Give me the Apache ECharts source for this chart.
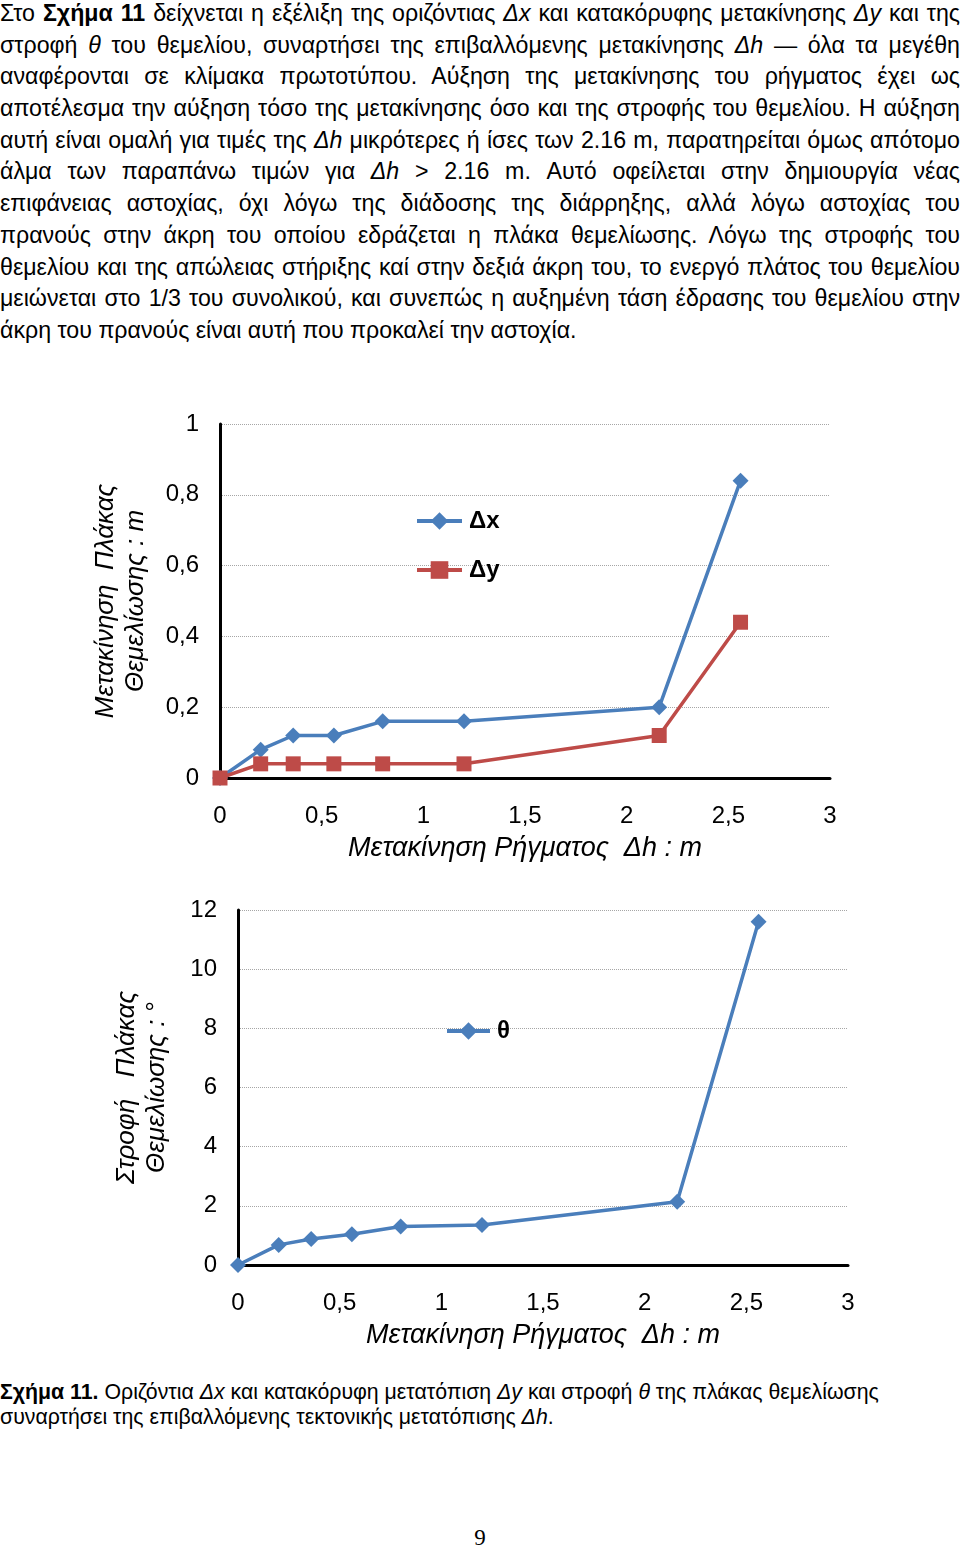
<!DOCTYPE html>
<html><head><meta charset="utf-8">
<script src="https://cdn.jsdelivr.net/npm/echarts@6/dist/echarts.min.js"></script>
<style>
html,body{margin:0;padding:0;background:#fff;}
body{width:960px;height:1550px;position:relative;overflow:hidden;font-family:"Liberation Sans",Arial,sans-serif;color:#000;}
#text{position:absolute;left:0;top:-2px;width:960px;font-size:23.2px;}
#text .l{height:31.7px;line-height:31.7px;text-align:justify;text-align-last:justify;}
#text .l.last{text-align-last:left;}
#chart{position:absolute;left:0;top:380px;width:960px;height:1000px;}
#cap{position:absolute;left:0;top:1380px;width:960px;font-size:21.3px;line-height:25px;}
#pg{position:absolute;left:0;width:960px;top:1524px;text-align:center;font-family:"Liberation Serif","Times New Roman",serif;font-size:23px;line-height:28px;}
</style></head>
<body>
<div id="text">
<div class="l">Στο <b>Σχήμα 11</b> δείχνεται η εξέλιξη της οριζόντιας <i>Δx</i> και κατακόρυφης μετακίνησης <i>Δy</i> και της</div>
<div class="l">στροφή <i>θ</i> του θεμελίου, συναρτήσει της επιβαλλόμενης μετακίνησης <i>Δh</i> — όλα τα μεγέθη</div>
<div class="l">αναφέρονται σε κλίμακα πρωτοτύπου. Αύξηση της μετακίνησης του ρήγματος έχει ως</div>
<div class="l">αποτέλεσμα την αύξηση τόσο της μετακίνησης όσο και της στροφής του θεμελίου. Η αύξηση</div>
<div class="l">αυτή είναι ομαλή για τιμές της <i>Δh</i> μικρότερες ή ίσες των 2.16 m, παρατηρείται όμως απότομο</div>
<div class="l">άλμα των παραπάνω τιμών για <i>Δh</i> &gt; 2.16 m. Αυτό οφείλεται στην δημιουργία νέας</div>
<div class="l">επιφάνειας αστοχίας, όχι λόγω της διάδοσης της διάρρηξης, αλλά λόγω αστοχίας του</div>
<div class="l">πρανούς στην άκρη του οποίου εδράζεται η πλάκα θεμελίωσης. Λόγω της στροφής του</div>
<div class="l">θεμελίου και της απώλειας στήριξης καί στην δεξιά άκρη του, το ενεργό πλάτος του θεμελίου</div>
<div class="l">μειώνεται στο 1/3 του συνολικού, και συνεπώς η αυξημένη τάση έδρασης του θεμελίου στην</div>
<div class="l last">άκρη του πρανούς είναι αυτή που προκαλεί την αστοχία.</div>
</div>
<div id="chart"></div>
<div id="cap"><b>Σχήμα 11.</b> Οριζόντια <i>Δx</i> και κατακόρυφη μετατόπιση <i>Δy</i> και στροφή <i>θ</i> της πλάκας θεμελίωσης<br>συναρτήσει της επιβαλλόμενης τεκτονικής μετατόπισης <i>Δh</i>.</div>
<div id="pg">9</div>
<script>
// Data
const dh    = [0, 0.2, 0.36, 0.56, 0.8, 1.2, 2.16, 2.56];   // Δh : m
const dx    = [0, 0.08, 0.12, 0.12, 0.16, 0.16, 0.20, 0.84]; // Δx : m
const dy    = [0, 0.04, 0.04, 0.04, 0.04, 0.04, 0.12, 0.44]; // Δy : m
const theta = [0, 0.68, 0.88, 1.04, 1.30, 1.35, 2.14, 11.6]; // θ : °
const seriesNames = ['Δx', 'Δy', 'θ'];
const xTitle = 'Μετακίνηση Ρήγματος  Δh : m';
const yTitle1 = 'Μετακίνηση  Πλάκας\nΘεμελίωσης : m';
const yTitle2 = 'Στροφή   Πλάκας\nΘεμελίωσης : °';

const BLUE = '#4A7EBB', RED = '#BE4B48';
const FONT = '"Liberation Sans", Arial, sans-serif';
const pair = (xs, ys) => xs.map((x, i) => [x, ys[i]]);
const comma = v => String(v).replace('.', ',');

function xAxisCfg(gi) {
  return {
    gridIndex: gi, type: 'value', min: 0, max: 3, interval: 0.5,
    name: xTitle, nameLocation: 'middle', nameGap: 57,
    nameTextStyle: {fontFamily: FONT, fontSize: 27, fontStyle: 'italic', color: '#000'},
    axisLine: {show: true, onZero: true, lineStyle: {color: '#000', width: 3}},
    axisTick: {show: false},
    splitLine: {show: false},
    axisLabel: {formatter: comma, fontFamily: FONT, fontSize: 24, color: '#000', margin: 26}
  };
}
function yAxisCfg(gi, max, interval, name, gap, fmt) {
  return {
    gridIndex: gi, type: 'value', min: 0, max: max, interval: interval,
    name: name, nameLocation: 'middle', nameRotate: 90, nameGap: gap,
    nameTextStyle: {fontFamily: FONT, fontSize: 26, fontStyle: 'italic', color: '#000', lineHeight: 30, align: 'center'},
    axisLine: {show: true, lineStyle: {color: '#000', width: 3}},
    axisTick: {show: false},
    splitLine: {show: true, lineStyle: {color: '#a6a6a6', type: 'dotted', width: 1}},
    axisLabel: {formatter: fmt, fontFamily: FONT, fontSize: 24, color: '#000', margin: 21}
  };
}
const legendText = {fontFamily: FONT, fontSize: 24, fontWeight: 'bold', color: '#000', lineHeight: 24, padding: [0, 0, 0, 2]};

const chart = echarts.init(document.getElementById('chart'), null, {renderer: 'canvas'});
chart.setOption({
  animation: false,
  backgroundColor: '#fff',
  grid: [
    {left: 220, top: 44, width: 610, height: 354, outerBoundsMode: 'none'},
    {left: 238, top: 530, width: 610, height: 355, outerBoundsMode: 'none'}
  ],
  xAxis: [xAxisCfg(0), xAxisCfg(1)],
  yAxis: [
    yAxisCfg(0, 1, 0.2, yTitle1, 69, comma),
    yAxisCfg(1, 12, 2, yTitle2, 66, v => String(v))
  ],
  legend: [
    {data: [seriesNames[0], seriesNames[1]], orient: 'vertical', left: 410, top: 124,
     itemWidth: 45, itemHeight: 22, itemGap: 25, textStyle: legendText,
     lineStyle: {width: 4}},
    {data: [seriesNames[2]], orient: 'vertical', left: 440, top: 634,
     itemWidth: 43, itemHeight: 22, itemGap: 25, textStyle: legendText,
     lineStyle: {width: 4}}
  ],
  series: [
    {name: seriesNames[0], type: 'line', xAxisIndex: 0, yAxisIndex: 0, data: pair(dh, dx),
     symbol: 'diamond', symbolSize: 16, color: BLUE, lineStyle: {width: 3.5, color: BLUE},
     itemStyle: {color: BLUE}, z: 2},
    {name: seriesNames[1], type: 'line', xAxisIndex: 0, yAxisIndex: 0, data: pair(dh, dy),
     symbol: 'rect', symbolSize: 15, color: RED, lineStyle: {width: 3.5, color: RED},
     itemStyle: {color: RED}, z: 3},
    {name: seriesNames[2], type: 'line', xAxisIndex: 1, yAxisIndex: 1, data: pair(dh, theta),
     symbol: 'diamond', symbolSize: 16, color: BLUE, lineStyle: {width: 3.5, color: BLUE},
     itemStyle: {color: BLUE}, z: 2}
  ]
});
</script>
</body></html>
